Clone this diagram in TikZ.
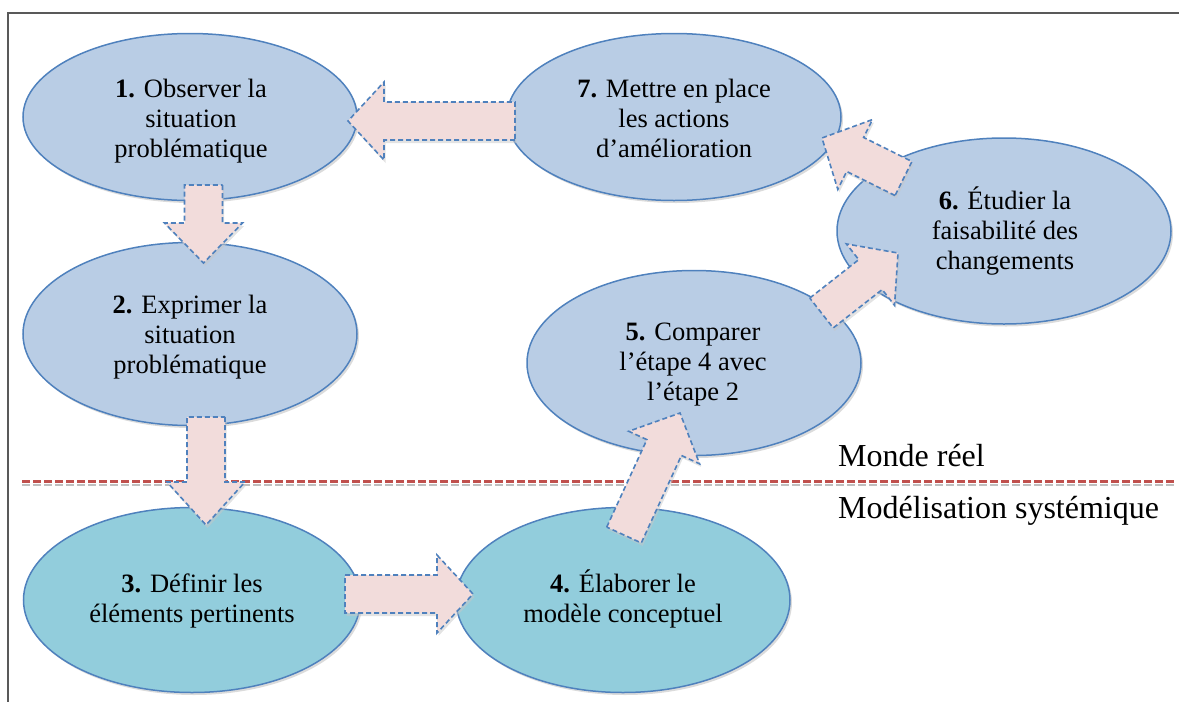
\documentclass[tikz,border=0pt]{standalone}
\usepackage{fontspec}
\setmainfont{Liberation Serif}
\usetikzlibrary{shapes.geometric,shadows,calc}

\definecolor{realfill}{HTML}{B9CDE5}
\definecolor{modelfill}{HTML}{92CDDC}
\definecolor{edgeblue}{HTML}{4F81BD}
\definecolor{arrowfill}{HTML}{F2DCDB}
\definecolor{splitred}{HTML}{C0504D}
\definecolor{framegray}{HTML}{595959}

\tikzset{
  stage/.style={ellipse, draw=edgeblue, line width=1.5pt, fill=realfill,
    inner sep=0pt,
    drop shadow={shadow xshift=2pt, shadow yshift=-2.5pt, fill=black!28}},
  modelstage/.style={stage, fill=modelfill},
  stagetext/.style={align=center, inner sep=0pt,
    font=\fontsize{26.5}{30}\selectfont},
  zonetext/.style={inner sep=0pt, anchor=base west,
    font=\fontsize{32}{36}\selectfont},
  % block arrow from the tail point to the tip; #1 = head length
  blockarrow/.style={draw=edgeblue, fill=arrowfill, line width=1.6pt,
    dash pattern=on 5pt off 3pt, line join=miter,
    drop shadow={shadow xshift=1.5pt, shadow yshift=-3pt, fill=black!22},
    to path={let \p1=(\tikztostart), \p2=(\tikztotarget),
      \n1={atan2(\y2-\y1,\x2-\x1)} in
      ($(\p1)+(\n1+90:19pt)$)
      -- ($(\p2)+(\n1+180:#1)+(\n1+90:19pt)$)
      -- ($(\p2)+(\n1+180:#1)+(\n1+90:39pt)$)
      -- (\p2)
      -- ($(\p2)+(\n1+180:#1)+(\n1-90:39pt)$)
      -- ($(\p2)+(\n1+180:#1)+(\n1-90:19pt)$)
      -- ($(\p1)+(\n1-90:19pt)$) -- cycle}},
  blockarrow/.default=38pt,
}

\begin{document}
\begin{tikzpicture}[x=1pt, y=-1pt]
  \useasboundingbox (0,0) rectangle (1179,702);

  % frame (top and left sides)
  \coordinate (fbl) at (8,702);
  \coordinate (ftl) at (8,13);
  \coordinate (ftr) at (1179,13);
  \draw[framegray, line width=2pt] (fbl) -- (ftl) -- (ftr);

  % boundary between the real world and the systemic model
  \coordinate (sl) at (22,481);
  \coordinate (sr) at (1175,481);
  \draw[black!25, line width=2pt, dash pattern=on 8pt off 3pt,
        transform canvas={yshift=-3.5pt}] (sl) -- (sr);
  \draw[splitred, line width=3pt, dash pattern=on 8pt off 3pt] (sl) -- (sr);

  \node[zonetext] (real)  at (838,466) {Monde réel};
  \node[zonetext] (model) at (838,518) {Modélisation systémique};

  % stages
  \node[stage, minimum width=334pt, minimum height=167pt] (e1) at (190,117) {};
  \node[stage, minimum width=334pt, minimum height=183pt] (e2) at (190,334) {};
  \node[modelstage, minimum width=337pt, minimum height=185pt] (e3) at (192,600) {};
  \node[modelstage, minimum width=334pt, minimum height=185pt] (e4) at (623,600) {};
  \node[stage, minimum width=334pt, minimum height=185pt] (e5) at (694,363) {};
  \node[stage, minimum width=334pt, minimum height=186pt] (e6) at (1004,231) {};
  \node[stage, minimum width=334pt, minimum height=167pt] (e7) at (674,117) {};

  \node[stagetext] (t1) at (191,121) {\textbf{1.} Observer la\\situation\\problématique};
  \node[stagetext] (t2) at (190,337) {\textbf{2.} Exprimer la\\situation\\problématique};
  \node[stagetext] (t3) at (192,601) {\textbf{3.} Définir les\\éléments pertinents};
  \node[stagetext] (t4) at (623,599) {\textbf{4.} Élaborer le\\modèle conceptuel};
  \node[stagetext] (t5) at (693,365) {\textbf{5.} Comparer\\l’étape 4 avec\\l’étape 2};
  \node[stagetext] (t6) at (1005,231) {\textbf{6.} Étudier la\\faisabilité des\\changements};
  \node[stagetext] (t7) at (674,118) {\textbf{7.} Mettre en place\\les actions\\d’amélioration};

  % arrow ends
  \coordinate (a71) at (515,121);   \coordinate (b71) at (348,121);
  \coordinate (a12) at (203.5,185); \coordinate (b12) at (203.5,263);
  \coordinate (a23) at (206,417);   \coordinate (b23) at (206,525);
  \coordinate (a34) at (345,594);   \coordinate (b34) at (473,594);
  \coordinate (a45) at (624,535);   \coordinate (b45) at (680,413);
  \coordinate (a56) at (821.5,313); \coordinate (b56) at (898,253);
  \coordinate (a67) at (903.5,178.5); \coordinate (b67) at (822,138);

  % cycle of the method
  \draw[blockarrow=36pt] (a71) to (b71);
  \draw[blockarrow=40pt] (a12) to (b12);
  \draw[blockarrow=43pt] (a23) to (b23);
  \draw[blockarrow=36pt] (a34) to (b34);
  \draw[blockarrow=38pt] (a45) to (b45);
  \draw[blockarrow=35pt] (a56) to (b56);
  \draw[blockarrow=37pt] (a67) to (b67);
\end{tikzpicture}
\end{document}
